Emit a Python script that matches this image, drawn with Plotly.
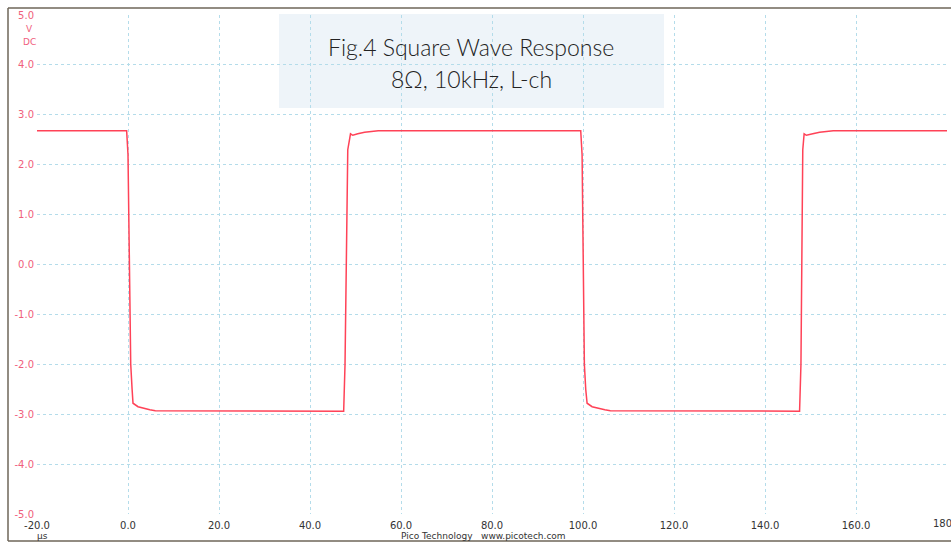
import plotly.graph_objects as go

# ---- data ----
time_us = [-20.0, -0.3, 0.0, 0.3, 0.6, 0.9, 1.1, 2.2, 3.7, 4.8, 6.0, 47.4, 47.7, 48.0, 48.3, 48.9, 49.4,
           50.5, 52.0, 55.0, 99.5, 99.8, 100.0, 100.3, 100.6, 100.9, 102.0, 103.5, 104.8, 106.0,
           147.6, 147.9, 148.1, 148.3, 148.6, 149.1, 150.5, 152.0, 155.0, 180.0]
volts = [2.68, 2.68, 2.2, 0.0, -2.0, -2.5, -2.78, -2.85, -2.89, -2.91, -2.93, -2.94, -2.0, 0.0, 2.3, 2.62, 2.59,
         2.62, 2.65, 2.68, 2.68, 2.2, 0.0, -2.0, -2.5, -2.78, -2.85, -2.89, -2.91, -2.93,
         -2.94, -2.0, 0.0, 2.3, 2.62, 2.59, 2.62, 2.65, 2.68, 2.68]

x_ticks = [-20, 0, 20, 40, 60, 80, 100, 120, 140, 160, 180]
x_tick_labels = ["-20.0", "0.0", "20.0", "40.0", "60.0", "80.0", "100.0", "120.0", "140.0", "160.0", "180.0"]
y_ticks = [-5, -4, -3, -2, -1, 0, 1, 2, 3, 4, 5]
y_tick_labels = ["-5.0", "-4.0", "-3.0", "-2.0", "-1.0", "0.0", "1.0", "2.0", "3.0", "4.0", "5.0"]

title_line1 = "Fig.4 Square Wave Response"
title_line2 = "8Ω, 10kHz, L-ch"

W, H = 951, 543
L, R, T, B = 37, 4, 15, 29
pw, ph = W - L - R, H - T - B

def px(xp):
    return (xp - L) / pw

def py(yp):
    return (H - B - yp) / ph

fig = go.Figure()
fig.add_trace(go.Scatter(x=time_us, y=volts, mode="lines",
                         line=dict(color="#ff4257", width=1.5), hoverinfo="skip"))

grid_color = "#b4dcea"
tick_font_x = dict(family="DejaVu Sans", size=10, color="#333333")
fig.update_layout(
    width=W, height=H,
    margin=dict(l=L, r=R, t=T, b=B),
    paper_bgcolor="white", plot_bgcolor="white",
    showlegend=False,
    xaxis=dict(range=[-20, 180], tickvals=x_ticks[:-1], ticktext=x_tick_labels[:-1],
               showgrid=True, gridcolor=grid_color, griddash="dot", gridwidth=1,
               zeroline=False, showline=False, ticks="", ticklabelstandoff=4,
               tickfont=tick_font_x),
    yaxis=dict(range=[-5, 5], tickvals=y_ticks, ticktext=y_tick_labels,
               showgrid=True, gridcolor=grid_color, griddash="dot", gridwidth=1,
               zeroline=False, showline=False, ticks="", ticklabelstandoff=2,
               tickfont=dict(family="DejaVu Sans", size=10, color="#f0607c")),
)

shapes = [
    # title box
    dict(type="rect", xref="paper", yref="paper", x0=px(279), x1=px(664), y0=py(108), y1=py(14),
         fillcolor="#eef4f9", line=dict(width=0), layer="below"),
    # outer frame lines
    dict(type="line", xref="paper", yref="paper", x0=px(8), x1=px(8), y0=py(8), y1=py(541),
         line=dict(color="#6e6658", width=1.5)),
    dict(type="line", xref="paper", yref="paper", x0=px(8), x1=px(955), y0=py(8), y1=py(8),
         line=dict(color="#6e6658", width=1.5)),
    dict(type="line", xref="paper", yref="paper", x0=px(8), x1=px(955), y0=py(541), y1=py(541),
         line=dict(color="#6e6658", width=1.5)),
]
fig.update_layout(shapes=shapes)

ann = [
    dict(text=title_line1, x=px(471), y=py(47), font=dict(family="Lato", size=23, weight=300, color="#222222")),
    dict(text=title_line2, x=px(471), y=py(79), font=dict(family="Lato", size=23, weight=300, color="#222222")),
    dict(text="V", x=px(29), y=py(29), font=dict(family="DejaVu Sans", size=9, color="#f0607c")),
    dict(text="DC", x=px(29), y=py(42), font=dict(family="DejaVu Sans", size=9, color="#f0607c")),
    dict(text="µs", x=px(42), y=py(536), font=dict(family="DejaVu Sans", size=9, color="#333333")),
    dict(text="Pico Technology   www.picotech.com", x=px(483), y=py(536),
         font=dict(family="DejaVu Sans", size=9, color="#333333")),
]
for a in ann:
    fig.add_annotation(xref="paper", yref="paper", showarrow=False, xanchor="center", yanchor="middle", **a)

# last x tick label (partly beyond the window edge, as in the reference)
fig.add_annotation(xref="x", yref="paper", x=x_ticks[-1], y=py(523), text=x_tick_labels[-1],
                   showarrow=False, xanchor="center", yanchor="middle", font=tick_font_x)

fig.write_html("out.html", config={"displayModeBar": False},
               post_script="document.body.style.margin='0';document.body.style.overflow='hidden';")
